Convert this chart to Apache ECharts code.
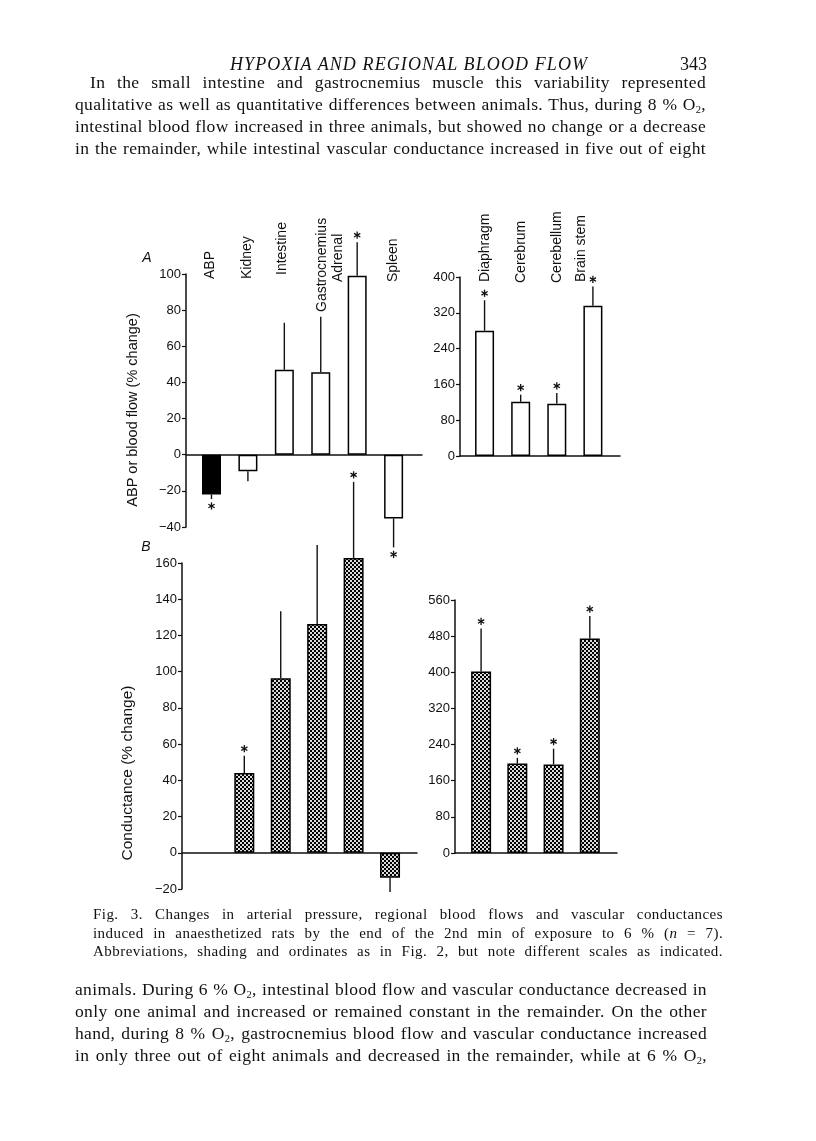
<!DOCTYPE html>
<html>
<head>
<meta charset="utf-8">
<script src="https://cdn.jsdelivr.net/npm/echarts@6.0.0/dist/echarts.min.js"></script>
<style>
  html, body { margin: 0; padding: 0; background: #fff; }
  #page { position: relative; width: 816px; height: 1141px; overflow: hidden; }
  #chart { position: absolute; left: 0; top: 0; width: 816px; height: 1141px; }
  .txt { position: absolute; font-family: "Liberation Serif", serif; color: #111; }
  .txt div { white-space: nowrap; }
  .txt div span.ln { display: inline-block; white-space: nowrap; }
  sub { font-size: 0.6em; vertical-align: -0.25em; line-height: 0; }
</style>
</head>
<body>
<div id="page">
  <div id="chart"></div>

  <div class="txt" style="left:230px; top:53px; font-size:18px; line-height:22px; font-style:italic; letter-spacing:1.1px;">HYPOXIA AND REGIONAL BLOOD FLOW</div>
  <div class="txt" style="left:680px; top:53px; font-size:18px; line-height:22px;">343</div>

  <div class="txt just" data-w="631" style="left:75px; top:71px; font-size:17.5px; line-height:22px; letter-spacing:0.35px;">
    <div style="padding-left:15px;" data-w="616"><span class="ln">In the small intestine and gastrocnemius muscle this variability represented</span></div>
    <div><span class="ln">qualitative as well as quantitative differences between animals. Thus, during 8 % O<sub>2</sub>,</span></div>
    <div><span class="ln">intestinal blood flow increased in three animals, but showed no change or a decrease</span></div>
    <div><span class="ln">in the remainder, while intestinal vascular conductance increased in five out of eight</span></div>
  </div>

  <div class="txt just" data-w="630" style="left:93px; top:905px; font-size:15px; line-height:18.5px; letter-spacing:0.45px;">
    <div><span class="ln">Fig. 3. Changes in arterial pressure, regional blood flows and vascular conductances</span></div>
    <div><span class="ln">induced in anaesthetized rats by the end of the 2nd min of exposure to 6 % (<i>n</i> = 7).</span></div>
    <div><span class="ln">Abbreviations, shading and ordinates as in Fig. 2, but note different scales as indicated.</span></div>
  </div>

  <div class="txt just" data-w="632" style="left:75px; top:978px; font-size:17.5px; line-height:22px; letter-spacing:0.35px;">
    <div><span class="ln">animals. During 6 % O<sub>2</sub>, intestinal blood flow and vascular conductance decreased in</span></div>
    <div><span class="ln">only one animal and increased or remained constant in the remainder. On the other</span></div>
    <div><span class="ln">hand, during 8 % O<sub>2</sub>, gastrocnemius blood flow and vascular conductance increased</span></div>
    <div><span class="ln">in only three out of eight animals and decreased in the remainder, while at 6 % O<sub>2</sub>,</span></div>
  </div>
</div>

<script>
// organs, left panels (ABP + peripheral) and right panels (central)
const organsLeft = ['ABP', 'Kidney', 'Intestine', 'Gastrocnemius', 'Adrenal', 'Spleen'];
const organsRight = ['Diaphragm', 'Cerebrum', 'Cerebellum', 'Brain stem'];

// A: ABP or blood flow (% change), mean and S.E.M.
const flowLeft = [-22, -9.2, 47, 45.7, 99, -35.3];
const flowLeftErr = [2.5, 5.5, 26, 30.7, 18.6, 16];
const flowLeftSig = [1, 0, 0, 0, 1, 1];
const flowRight = [280, 121, 117, 336];
const flowRightErr = [68, 16, 24, 43];
const flowRightSig = [1, 1, 1, 1];

// B: conductance (% change); no conductance for ABP
const condLeft = [null, 44, 96.4, 126.3, 162.8, -13.8];
const condLeftErr = [null, 9.6, 37, 43.7, 42, 7.8];
const condLeftSig = [0, 1, 0, 0, 1, 0];
const condRight = [402, 198, 196, 475];
const condRightErr = [95, 12.5, 35, 49.5];
const condRightSig = [1, 1, 1, 1];

const INK = '#111';
const SANS = '"Liberation Sans", Arial, sans-serif';

// justify each printed line to its measure by word spacing
document.querySelectorAll('.just').forEach(block => {
  const full = +block.dataset.w;
  block.querySelectorAll('div').forEach(row => {
    const target = row.dataset.w ? +row.dataset.w : full;
    const ln = row.querySelector('.ln');
    const gaps = (ln.textContent.match(/ /g) || []).length;
    const natural = ln.getBoundingClientRect().width;
    if (gaps) ln.style.wordSpacing = ((target - natural) / gaps).toFixed(2) + 'px';
  });
});

// checker shading for conductance bars
const pat = document.createElement('canvas');
pat.width = 4; pat.height = 4;
const pctx = pat.getContext('2d');
pctx.fillStyle = '#dcdcdc'; pctx.fillRect(0, 0, 4, 4);
pctx.fillStyle = '#000'; pctx.fillRect(0, 0, 2, 2); pctx.fillRect(2, 2, 2, 2);
const shade = { image: pat, repeat: 'repeat' };

const minus = v => (v < 0 ? '\u2212' + (-v) : '' + v);

function yAxisOf(grid, min, max, interval) {
  return {
    type: 'value', gridIndex: grid, min, max, interval,
    axisLine: { show: true, onZero: false, lineStyle: { color: INK, width: 1.5 } },
    axisTick: { show: true, length: 4, lineStyle: { color: INK, width: 1.2 } },
    axisLabel: { color: INK, fontSize: 13, fontFamily: SANS, margin: 5, formatter: minus },
    splitLine: { show: false }
  };
}

function xAxisOf(grid, min, max) {
  return {
    type: 'value', gridIndex: grid, min, max,
    axisLine: { show: true, onZero: true, lineStyle: { color: INK, width: 1.5 } },
    axisTick: { show: false }, axisLabel: { show: false }, splitLine: { show: false }
  };
}

function barSeries(grid, values, width, color) {
  return {
    type: 'bar', xAxisIndex: grid, yAxisIndex: grid, barWidth: width, clip: false,
    data: values.map((v, i) => [i, v]).filter(d => d[1] !== null),
    itemStyle: { color: color, borderColor: '#000', borderWidth: 1.5 },
    animation: false
  };
}

function star(cx, cy) {
  const r = 3.6, out = [];
  [90, 30, 150].forEach(a => {
    const dx = r * Math.cos(a * Math.PI / 180), dy = r * Math.sin(a * Math.PI / 180);
    out.push({ type: 'line', shape: { x1: cx - dx, y1: cy - dy, x2: cx + dx, y2: cy + dy },
      style: { stroke: INK, lineWidth: 1.3 } });
  });
  return out;
}

function errorSeries(grid, values, errs, sig) {
  return {
    type: 'custom', xAxisIndex: grid, yAxisIndex: grid, clip: false, animation: false,
    data: values.map((v, i) => [i, v, errs[i], sig[i]]).filter(d => d[1] !== null),
    renderItem: (params, api) => {
      const x = api.value(0), m = api.value(1), e = api.value(2), s = api.value(3);
      const dir = m >= 0 ? 1 : -1;
      const p0 = api.coord([x, m]);
      const p1 = api.coord([x, m + dir * e]);
      const kids = [{ type: 'line', shape: { x1: p0[0], y1: p0[1], x2: p1[0], y2: p1[1] },
        style: { stroke: INK, lineWidth: 1.4 } }];
      if (s) kids.push(...star(p0[0], p1[1] - dir * 7));
      return { type: 'group', children: kids };
    }
  };
}

// vertical organ names above panel A; shift = [dx, dy] of each name's foot
function nameSeries(grid, names, bottom, shift) {
  return {
    type: 'custom', xAxisIndex: grid, yAxisIndex: grid, clip: false, animation: false,
    data: names.map((n, i) => [i, 0]),
    renderItem: (params, api) => {
      const i = params.dataIndex;
      const p = api.coord([api.value(0), 0]);
      const sh = shift[i] || [0, 0];
      return {
        type: 'text', x: p[0] + sh[0], y: bottom + sh[1], rotation: Math.PI / 2,
        style: { text: names[i], fill: INK, font: '14px ' + SANS, align: 'left', verticalAlign: 'middle' }
      };
    }
  };
}

const chart = echarts.init(document.getElementById('chart'), null, { renderer: 'canvas' });

const option = {
  backgroundColor: 'transparent',
  animation: false,
  grid: [
    { left: 186, top: 274, width: 236, height: 253, outerBoundsMode: 'none' },
    { left: 460, top: 277, width: 160, height: 179, outerBoundsMode: 'none' },
    { left: 182, top: 563, width: 235, height: 326, outerBoundsMode: 'none' },
    { left: 455, top: 600, width: 162, height: 253, outerBoundsMode: 'none' }
  ],
  xAxis: [
    xAxisOf(0, -0.70, 5.78),
    xAxisOf(1, -0.68, 3.75),
    xAxisOf(2, -0.71, 5.74),
    xAxisOf(3, -0.72, 3.75)
  ],
  yAxis: [
    yAxisOf(0, -40, 100, 20),
    yAxisOf(1, 0, 400, 80),
    yAxisOf(2, -20, 160, 20),
    yAxisOf(3, 0, 560, 80)
  ],
  series: [
    barSeries(0, flowLeft, 19, p => (p.dataIndex === 0 ? '#000' : '#fff')),
    errorSeries(0, flowLeft, flowLeftErr, flowLeftSig),
    nameSeries(0, organsLeft, 279, [[-1, 0], [-1, 0], [-2, -4], [1, 33], [-19, 3], [0, 3]]),

    barSeries(1, flowRight, 19, '#fff'),
    errorSeries(1, flowRight, flowRightErr, flowRightSig),
    nameSeries(1, organsRight, 283, [[1, -1], [0, 0], [0, 0], [-12, -1]]),

    barSeries(2, condLeft, 20, shade),
    errorSeries(2, condLeft, condLeftErr, condLeftSig),

    barSeries(3, condRight, 20, shade),
    errorSeries(3, condRight, condRightErr, condRightSig)
  ],
  graphic: [
    { type: 'text', x: 147, y: 258, style: { text: 'A', fill: INK, font: 'italic 14px ' + SANS, align: 'center', verticalAlign: 'middle' } },
    { type: 'text', x: 146, y: 547, style: { text: 'B', fill: INK, font: 'italic 14px ' + SANS, align: 'center', verticalAlign: 'middle' } },
    { type: 'text', x: 133, y: 410, rotation: Math.PI / 2,
      style: { text: 'ABP or blood flow (% change)', fill: INK, font: '14.5px ' + SANS, align: 'center', verticalAlign: 'middle' } },
    { type: 'text', x: 128, y: 773, rotation: Math.PI / 2,
      style: { text: 'Conductance (% change)', fill: INK, font: '15.5px ' + SANS, align: 'center', verticalAlign: 'middle' } }
  ]
};

chart.setOption(option);
</script>
</body>
</html>
